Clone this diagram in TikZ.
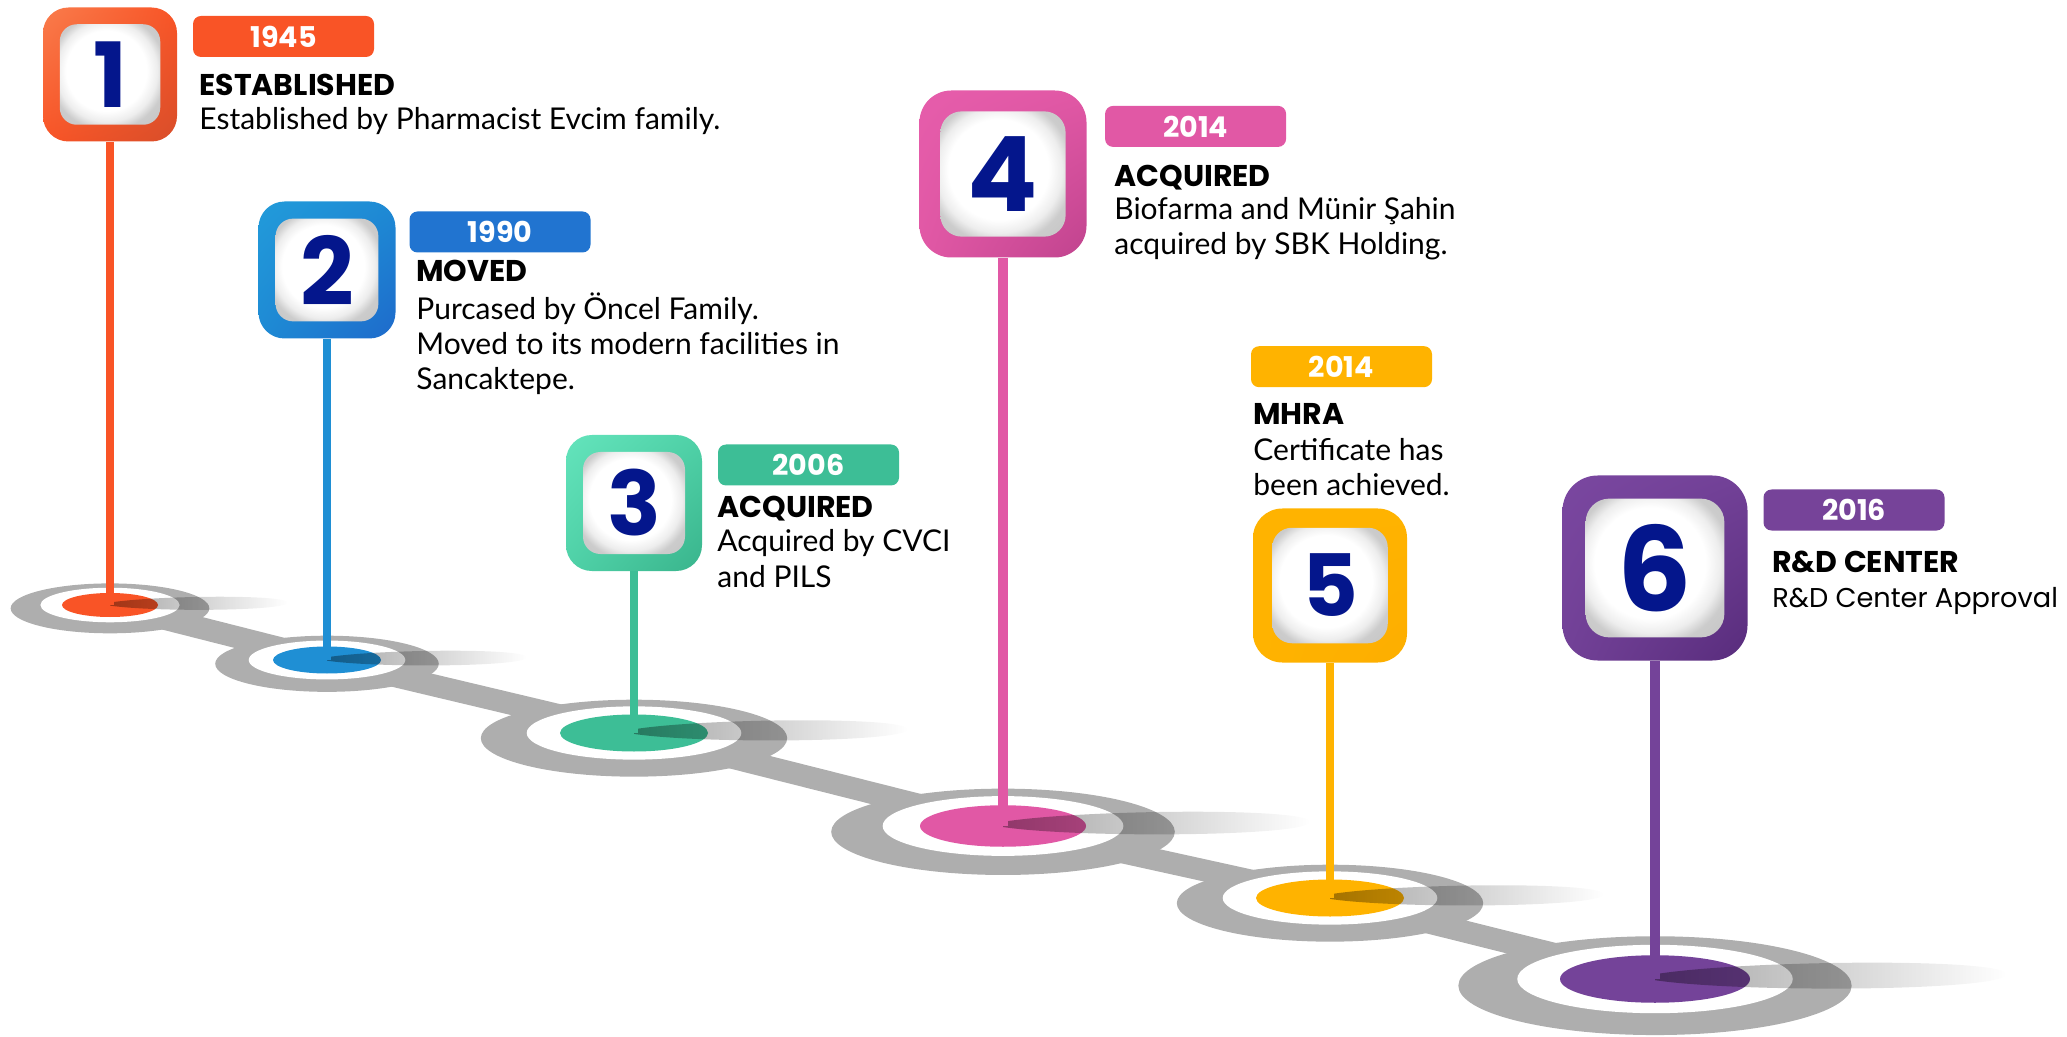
\documentclass[tikz,border=0pt]{standalone}
\usepackage{fontspec}
\setmainfont{Lato}
\newfontfamily\popfont{Poppins}
\usetikzlibrary{shapes.geometric,fadings,shadings}

% main colours (stem, disk, tag)
\definecolor{md1}{HTML}{F95426}\definecolor{lt1}{HTML}{F97C4C}\definecolor{dk1}{HTML}{D84E2A}\definecolor{tg1}{HTML}{F95426}
\definecolor{md2}{HTML}{1E8AD4}\definecolor{lt2}{HTML}{229BDA}\definecolor{dk2}{HTML}{1E6ACB}\definecolor{tg2}{HTML}{2174D0}
\definecolor{md3}{HTML}{4FD1A7}\definecolor{lt3}{HTML}{64E4BC}\definecolor{dk3}{HTML}{39B48C}\definecolor{tg3}{HTML}{3DBE96}
\definecolor{md4}{HTML}{E158A5}\definecolor{lt4}{HTML}{E65DAB}\definecolor{dk4}{HTML}{C0438E}\definecolor{tg4}{HTML}{E158A5}
\definecolor{md5}{HTML}{FFB300}\definecolor{lt5}{HTML}{FFB300}\definecolor{dk5}{HTML}{FDAE00}\definecolor{tg5}{HTML}{FFB300}
\definecolor{md6}{HTML}{724197}\definecolor{lt6}{HTML}{7A47A0}\definecolor{dk6}{HTML}{582C7C}\definecolor{tg6}{HTML}{764399}
\definecolor{st1}{HTML}{F95426}\definecolor{st2}{HTML}{1F8FD4}\definecolor{st3}{HTML}{3DBE96}
\definecolor{st4}{HTML}{E158A5}\definecolor{st5}{HTML}{FFB300}\definecolor{st6}{HTML}{744399}
\definecolor{digitblue}{HTML}{04168C}
\definecolor{groundgrey}{HTML}{AEAEAE}

\pgfdeclareradialshading{innerwhite}{\pgfpoint{-3bp}{3bp}}{color(0bp)=(white); color(20bp)=(white); color(25bp)=(black!7); color(29bp)=(black!20); color(50bp)=(black!28)}
\tikzfading[name=shadowfade, left color=transparent!15, middle color=transparent!60, right color=transparent!100]

\begin{document}
\begin{tikzpicture}[x=0.5pt, y=-0.5pt,
  band/.style={draw=groundgrey, line width=11pt, line join=round},
  disk/.style={ellipse, inner sep=0pt, draw=none},
  outerbox/.style={rectangle, inner sep=0pt, draw=none},
  innerbox/.style={rectangle, inner sep=0pt, draw=none, shading=innerwhite},
  digit/.style={inner sep=0pt, text=digitblue},
  stemline/.style={line cap=butt},
  tag/.style={rectangle, rounded corners=4pt, minimum width=90.5pt, minimum height=20.5pt, inner sep=0pt, text=white, font=\popfont\bfseries\fontsize{14.3}{16}\selectfont},
  head/.style={anchor=base west, inner sep=0pt, font=\popfont\bfseries\fontsize{15}{17}\selectfont},
  body/.style={anchor=base west, inner sep=0pt, align=left, font=\fontsize{15}{17.5}\selectfont}
]
\useasboundingbox (0,0) rectangle (2067,1037);

% ground path
\foreach \i/\cx/\cy in {1/110/605, 2/327/660, 3/634/733, 4/1003/826, 5/1330/898, 6/1655/979}
  {\coordinate (g\i) at (\cx,\cy);}
\draw[band] (g1) -- (g2) -- (g3) -- (g4) -- (g5) -- (g6);

\foreach \i/\cx/\cy/\a in {1/110/605/48, 2/327/660/54, 3/634/733/74, 4/1003/826/83, 5/1330/898/74, 6/1655/979/95}{
  \pgfmathsetmacro\ga{2.07*\a*0.5}
  \pgfmathsetmacro\gb{0.52*\a*0.5}
  \pgfmathsetmacro\wa{1.45*\a*0.5}
  \pgfmathsetmacro\wb{0.36*\a*0.5}
  \pgfmathsetmacro\da{2*\a*0.5}
  \pgfmathsetmacro\db{0.5*\a*0.5}
  \pgfmathsetmacro\L{3.7*\a}
  \pgfmathsetmacro\bd{0.25*\a}
  \fill[groundgrey] ({\cx},{\cy+0.07*\a}) ellipse [x radius=\ga pt, y radius=\gb pt];
  \fill[white] (g\i) ellipse [x radius=\wa pt, y radius=\wb pt];
  \node[disk, fill=st\i, minimum width=\da pt, minimum height=\db pt] (d\i) at (g\i) {};
  \fill[black, opacity=0.42, path fading=shadowfade]
    ({\cx},{\cy-0.2*\bd}) .. controls ({\cx+0.25*\L},{\cy-0.8*\bd}) and ({\cx+\L},{\cy-0.9*\bd}) ..
    ({\cx+\L},{\cy-0.2*\bd}) .. controls ({\cx+\L},{\cy+0.5*\bd}) and ({\cx+0.25*\L},{\cy+0.6*\bd}) ..
    ({\cx},{\cy+0.05*\bd}) -- cycle;
}

% boxes
\foreach \i/\x/\y/\s/\fs/\sw in {1/110/74.5/134/45/4, 2/327/270/137/47/4, 3/634/503/136/44.5/4, 4/1003/174/167/52/5, 5/1330/585.5/154/43/4, 6/1655/568/185/58.5/5}{
  \pgfmathsetmacro\sp{\s*0.5}
  \pgfmathsetmacro\rr{0.095*\s}
  \pgfmathsetmacro\ip{0.75*\s*0.5}
  \pgfmathsetmacro\ir{0.085*0.75*\s}
  \node[outerbox, minimum size=\sp pt, rounded corners=\rr pt,
        upper left=lt\i, upper right=md\i, lower left=md\i, lower right=dk\i] (b\i) at (\x,\y) {};
  \node[innerbox, minimum size=\ip pt, rounded corners=\ir pt] (w\i) at (b\i.center) {};
  \node[digit, font=\popfont\bfseries\fontsize{\fs}{\fs}\selectfont] (n\i) at (b\i.center) {\i};
  \draw[stemline, draw=st\i, line width=\sw pt] (b\i.south) -- (d\i.center);
}

% labels (multi-line bodies are anchored at the baseline of their last line)
\node[tag, fill=tg1] (y1) at (283.5,36.5) {1945};
\node[head] (h1) at (199,96) {ESTABLISHED};
\node[body] (x1) at (199,130) {Established by Pharmacist Evcim family.};

\node[tag, fill=tg2] (y2) at (500,232) {1990};
\node[head] (h2) at (416,282) {MOVED};
\node[body] (x2) at (416,390) {Purcased by Öncel Family.\\Moved to its modern facilities in\\Sancaktepe.};

\node[tag, fill=tg3] (y3) at (808.5,465) {2006};
\node[head] (h3) at (717,517) {ACQUIRED};
\node[body] (x3) at (717,587) {Acquired by CVCI\\and PILS};

\node[tag, fill=tg4] (y4) at (1195.6,126.4) {2014};
\node[head] (h4) at (1114,187) {ACQUIRED};
\node[body] (x4) at (1114,255) {Biofarma and Münir Şahin\\acquired by SBK Holding.};

\node[tag, fill=tg5] (y5) at (1341.5,366.7) {2014};
\node[head] (h5) at (1253,425) {MHRA};
\node[body] (x5) at (1253,495) {Certificate has\\been achieved.};

\node[tag, fill=tg6] (y6) at (1854,510) {2016};
\node[head] (h6) at (1772,572) {R\&D CENTER};
\node[body, font=\popfont\fontsize{13.6}{17.5}\selectfont] (x6) at (1772,607) {R\&D Center Approval};
\end{tikzpicture}
\end{document}
